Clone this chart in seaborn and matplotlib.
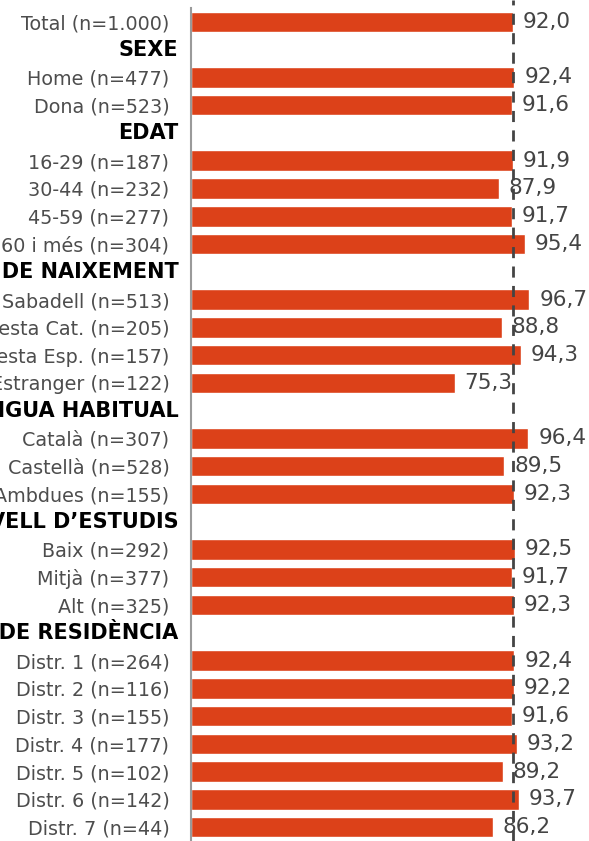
import matplotlib
matplotlib.use("Agg")
import matplotlib.pyplot as plt
import matplotlib.transforms as mtransforms
import numpy as np
import pandas as pd
import seaborn as sns

# row order top to bottom; headers have no bar
rows = ["Total (n=1.000)", "SEXE", "Home (n=477)", "Dona (n=523)",
        "EDAT", "16-29 (n=187)", "30-44 (n=232)", "45-59 (n=277)", "60 i més (n=304)",
        "LLOC DE NAIXEMENT", "Sabadell (n=513)", "Resta Cat. (n=205)", "Resta Esp. (n=157)",
        "Estranger (n=122)",
        "LLENGUA HABITUAL", "Català (n=307)", "Castellà (n=528)", "Ambdues (n=155)",
        "NIVELL D’ESTUDIS", "Baix (n=292)", "Mitjà (n=377)", "Alt (n=325)",
        "DISTRICTE DE RESIDÈNCIA", "Distr. 1 (n=264)", "Distr. 2 (n=116)", "Distr. 3 (n=155)",
        "Distr. 4 (n=177)", "Distr. 5 (n=102)", "Distr. 6 (n=142)", "Distr. 7 (n=44)"]
headers = ["SEXE", "EDAT", "LLOC DE NAIXEMENT", "LLENGUA HABITUAL",
           "NIVELL D’ESTUDIS", "DISTRICTE DE RESIDÈNCIA"]

labels = ["Total (n=1.000)", "Home (n=477)", "Dona (n=523)",
          "16-29 (n=187)", "30-44 (n=232)", "45-59 (n=277)", "60 i més (n=304)",
          "Sabadell (n=513)", "Resta Cat. (n=205)", "Resta Esp. (n=157)", "Estranger (n=122)",
          "Català (n=307)", "Castellà (n=528)", "Ambdues (n=155)",
          "Baix (n=292)", "Mitjà (n=377)", "Alt (n=325)",
          "Distr. 1 (n=264)", "Distr. 2 (n=116)", "Distr. 3 (n=155)", "Distr. 4 (n=177)",
          "Distr. 5 (n=102)", "Distr. 6 (n=142)", "Distr. 7 (n=44)"]
values = [92.0, 92.4, 91.6,
          91.9, 87.9, 91.7, 95.4,
          96.7, 88.8, 94.3, 75.3,
          96.4, 89.5, 92.3,
          92.5, 91.7, 92.3,
          92.4, 92.2, 91.6, 93.2, 89.2, 93.7, 86.2]
total = 92.0

df = pd.DataFrame({"label": labels, "value": values})

sns.set_style("white")
plt.rcParams['font.family'] = ['DejaVu Sans']

fig = plt.figure(figsize=(5.89, 8.41), dpi=100)
ax = fig.add_axes([191 / 589, 0.0, 1 - 191 / 589, 1 - 8 / 841])

sns.barplot(data=df, x="value", y="label", order=rows, orient="h",
            color="#DC4119", saturation=1, width=0.74, ax=ax)

ax.set_xlim(0, 113.7)
ax.set_ylim(len(rows) - 0.5, -0.5)
ax.set_xlabel("")
ax.set_ylabel("")
ax.set_xticks([])

for s in ["top", "right", "bottom"]:
    ax.spines[s].set_visible(False)
ax.spines["left"].set_color("#9a9a9a")
ax.spines["left"].set_linewidth(1.5)

# tick labels: categories grey, headers blank (drawn bold below)
ax.set_yticks(range(len(rows)))
ax.set_yticklabels(["" if r in headers else r for r in rows])
ax.tick_params(axis="y", length=0, pad=15.5, labelsize=13.8, labelcolor="#4d4d4d")

trans = mtransforms.blended_transform_factory(ax.transAxes, ax.transData) + \
    mtransforms.ScaledTranslation(-9 / 72, 0, fig.dpi_scale_trans)
for i, r in enumerate(rows):
    if r in headers:
        ax.text(0, i, r, transform=trans, ha="right", va="center",
                fontsize=15, fontweight="bold", color="black")

# value labels
for c in ax.containers:
    ax.bar_label(c, labels=[f"{v:.1f}".replace(".", ",") for v in c.datavalues],
                 padding=7, fontsize=15.5, color="#444444")

ax.axvline(total, ymin=0, ymax=1.01, color="#444444", lw=2,
           linestyle=(0, (4, 3)), clip_on=False, zorder=5)

fig.savefig("out.png", dpi=100)
